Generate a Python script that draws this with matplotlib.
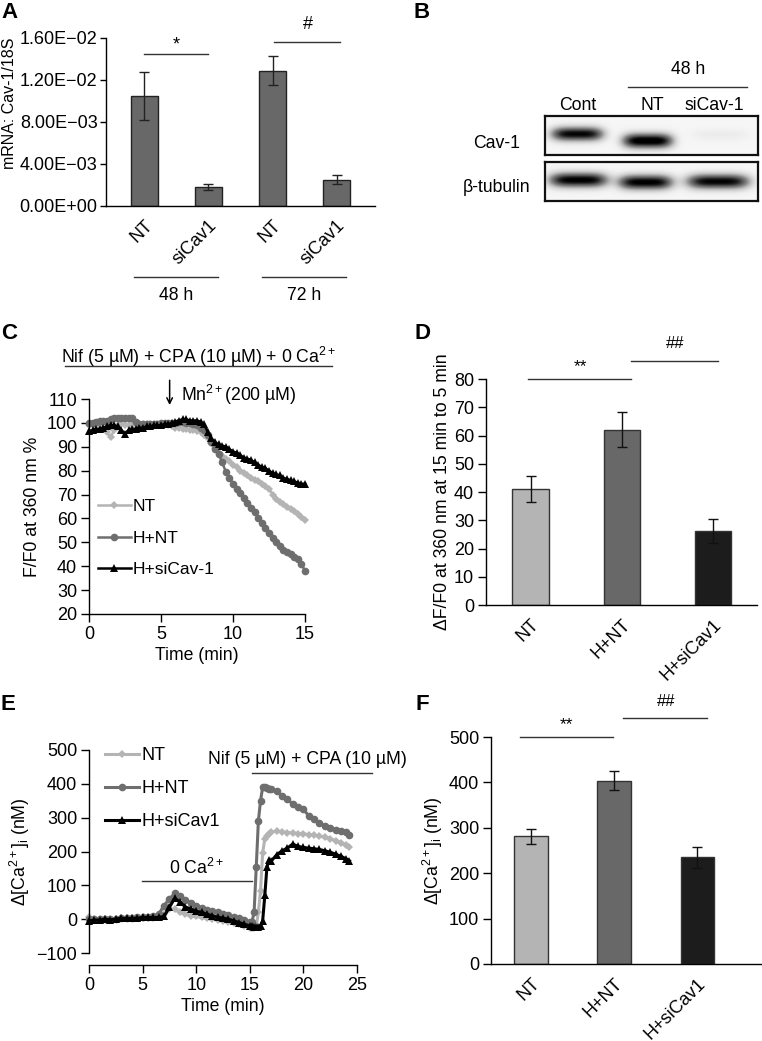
import numpy as np
import matplotlib
matplotlib.use('Agg')
import matplotlib.pyplot as plt
import matplotlib.transforms as mtransforms

plt.rcParams['font.family'] = ['Liberation Sans', 'DejaVu Sans']
plt.rcParams['mathtext.fontset'] = 'custom'
plt.rcParams['mathtext.rm'] = 'Liberation Sans'
plt.rcParams['mathtext.it'] = 'Liberation Sans:italic'
plt.rcParams['mathtext.bf'] = 'Liberation Sans:bold'
plt.rcParams['axes.linewidth'] = 1.0

# ---------------- data ----------------
# Panel A
a_labels = ['NT', 'siCav1', 'NT', 'siCav1']
a_groups = ['48 h', '72 h']
a_values = [0.0105, 0.00184, 0.0129, 0.00252]
a_errors = [0.0023, 0.0003, 0.0014, 0.0004]
a_yticks = [0, 0.004, 0.008, 0.012, 0.016]
a_yticklabels = ['0.00E+00', '4.00E\u221203', '8.00E\u221203', '1.20E\u221202', '1.60E\u221202']

# Panel B (western blot band intensities, 0..1)
b_lanes = ['Cont', 'NT', 'siCav-1']
b_cav1 = [0.92, 1.0, 0.08]
b_tubulin = [0.95, 0.95, 0.93]

# Panel C
c_time = [i * 0.25 for i in range(61)]
c_nt = [99, 99, 99.5, 99, 98, 96, 94, 97, 99, 99.5,
        99, 99, 99, 99.5, 99.5, 99.5, 99.5, 99.5, 99.5, 99.5,
        99.5, 99.5, 99, 98.5, 98, 98, 97.5, 97.5, 97, 97,
        96.5, 96, 95, 93.5, 91.5, 89.5, 87.5, 86, 85, 84,
        82.5, 81.5, 80, 79, 78, 77, 76, 75.5, 74.5, 73.5,
        72.5, 70, 68, 67, 66, 65, 64, 63, 62, 60.5,
        59.5]
c_hnt = [100, 100, 100.5, 101, 101, 101, 101.5, 102, 102, 102,
         102, 102, 102, 100.5, 99.5, 99.5, 99.5, 99.5, 99.5, 99.5,
         100, 100, 100, 100, 100, 100.5, 100.5, 100, 100, 99.5,
         99, 98, 97, 95, 92, 89, 87, 83.5, 79.5, 77,
         74.5, 72.5, 70.5, 68.5, 66.5, 64.5, 62.5, 60, 58, 56,
         54, 52, 50, 48.5, 47, 46, 45, 44, 43, 41,
         38]
c_hsi = [96.5, 97, 97.5, 97.5, 98, 98.5, 99, 99, 98.5, 97,
         95.5, 97, 97.5, 97.5, 98, 98, 98.5, 98.5, 99, 99,
         99, 99.5, 99.5, 100, 100.5, 101, 101.5, 101.5, 101, 101,
         101, 100.5, 99.5, 96, 93.5, 92, 91, 90.5, 90, 89,
         88, 87.5, 86.5, 85.5, 85, 84.5, 83.5, 82.5, 81.5, 81,
         80, 79, 78.5, 78, 77, 76.5, 76, 75.5, 75, 74.5,
         74.5]
c_series = ['NT', 'H+NT', 'H+siCav-1']

# Panel D
d_labels = ['NT', 'H+NT', 'H+siCav1']
d_values = [41.1, 62.1, 26.2]
d_errors = [4.7, 6.3, 4.4]

# Panel E
e_time = [0, 0.5, 1, 1.5, 2, 2.5, 3, 3.5, 4, 4.5, 5, 5.5, 6, 6.5, 7, 7.5, 8, 8.5,
          9, 9.5, 10, 10.5, 11, 11.5, 12, 12.5, 13, 13.5, 14, 14.5, 15,
          15.2, 15.4, 15.6, 15.8, 16.0, 16.2, 16.4, 16.6, 16.8, 17.0,
          17.5, 18, 18.5, 19, 19.5, 20, 20.5, 21, 21.5, 22, 22.5, 23, 23.5, 24,
          24.3]
e_nt = [5, 0, 0, 0, 0, 0, 2, 2, 2, 3, 3, 3, 3, 5, 15, 30, 30, 20,
        15, 10, 8, 5, 2, 0, -3, -5, -8, -12, -15, -20, -25,
        -25, -25, -22, 20, 83, 197, 237, 245, 252, 257,
        260, 258, 256, 255, 253, 252, 250, 248, 246, 242, 238, 232, 226, 218,
        212]
e_hnt = [0, 0, 0, 0, 0, 0, 2, 3, 3, 5, 5, 5, 8, 15, 40, 60, 76, 68,
         58, 48, 40, 33, 28, 24, 20, 15, 11, 7, 2, -3, -8,
         -8, 20, 153, 290, 350, 390, 390, 388, 386, 384,
         378, 365, 355, 340, 332, 325, 305, 295, 285, 275, 270, 265, 262, 258,
         248]
e_hsi = [-5, -3, -2, 0, -2, 0, 3, 2, 2, 3, 5, 5, 5, 5, 8, 35, 62, 50,
         36, 30, 24, 20, 15, 10, 6, 3, 0, -5, -10, -15, -20,
         -20, -22, -22, -22, -20, -5, 70, 155, 175, 172,
         190, 202, 210, 222, 215, 212, 210, 208, 206, 202, 198, 192, 186, 178,
         172]
e_series = ['NT', 'H+NT', 'H+siCav1']

# Panel F
f_labels = ['NT', 'H+NT', 'H+siCav1']
f_values = [281, 404, 235]
f_errors = [17, 21, 23]

# ---------------- layout helpers ----------------
W, H = 762, 1041
fig = plt.figure(figsize=(W / 100, H / 100), dpi=100)


def rect(x0, y0, x1, y1):
    return [x0 / W, 1 - y1 / H, (x1 - x0) / W, (y1 - y0) / H]


def ftext(x, y, s, **kw):
    kw.setdefault('ha', 'center')
    kw.setdefault('va', 'center')
    fig.text(x / W, 1 - y / H, s, **kw)


def fline(x0, x1, y, lw=1.0, color='#333333'):
    fig.add_artist(plt.Line2D([x0 / W, x1 / W], [1 - y / H, 1 - y / H],
                              transform=fig.transFigure, color=color, lw=lw))


TICK = 13
LAB = 12.7
LET = 16
GREY_LIGHT = '#b4b4b4'
GREY_DARK = '#686868'
BLACK = '#1c1c1c'


def style(ax):
    ax.spines['top'].set_visible(False)
    ax.spines['right'].set_visible(False)
    ax.tick_params(direction='out', length=5.5, width=1, labelsize=TICK, pad=3)


# ---------------- Panel A ----------------
axA = fig.add_axes(rect(106, 38, 375, 206))
xa = np.arange(len(a_values))
axA.bar(xa, a_values, width=0.42, color='#686868', edgecolor='#222222', linewidth=1)
axA.errorbar(xa, a_values, yerr=a_errors, fmt='none', ecolor='#222222',
             elinewidth=1, capsize=3.5, capthick=1)
axA.set_xlim(-0.6, 3.6)
axA.set_ylim(0, 0.016)
style(axA)
axA.tick_params(axis='y', length=4, pad=2)
axA.set_yticks(a_yticks)
axA.set_yticklabels(a_yticklabels)
axA.set_xticks(xa)
axA.set_xticklabels(a_labels, rotation=45, ha='right', rotation_mode='anchor')
axA.tick_params(axis='x', length=0, pad=8)
axA.set_ylabel('mRNA: Cav-1/18S', fontsize=11.5)
axA.yaxis.set_label_coords(-0.33, 0.61)
axA.plot([0, 1], [0.0145, 0.0145], color='#333333', lw=1, clip_on=False)
axA.text(0.5, 0.0153, '*', ha='center', va='center', fontsize=13)
axA.plot([2.03, 3.05], [0.01565, 0.01565], color='#333333', lw=1, clip_on=False)
axA.text(2.55, 0.0173, '#', ha='center', va='center', fontsize=13)
trA = mtransforms.blended_transform_factory(axA.transData, axA.transAxes)
for gi, g in enumerate(a_groups):
    c = 2 * gi + 0.5
    axA.plot([c - 0.67, c + 0.65], [-0.42, -0.42], transform=trA, color='#333333',
             lw=1, clip_on=False)
    axA.text(c, -0.53, g, transform=trA, ha='center', va='center', fontsize=LAB)

# ---------------- Panel B ----------------
def blot(ax, intens, xcs, ycs, hws, hhs):
    nx, ny = 213, 39
    xx = np.linspace(0, 1, nx)[None, :]
    yy = np.linspace(0, 1, ny)[:, None]
    img = np.full((ny, nx), 0.07)
    for I, cx, cy, hw, hh in zip(intens, xcs, ycs, hws, hhs):
        img += I * np.exp(-np.abs((xx - cx) / hw) ** 4) * np.exp(-((yy - cy) / hh) ** 2)
    ax.imshow(np.clip(img, 0, 1), cmap='Greys', vmin=0, vmax=1.0, aspect='auto',
              interpolation='bilinear', extent=(0, 1, 1, 0))
    ax.set_xticks([])
    ax.set_yticks([])
    for s in ax.spines.values():
        s.set_linewidth(1.6)
        s.set_color('#111111')


axB1 = fig.add_axes(rect(545, 116, 758, 155))
blot(axB1, b_cav1, [0.15, 0.48, 0.82], [0.46, 0.64, 0.48], [0.125, 0.12, 0.14], [0.19, 0.2, 0.17])
axB2 = fig.add_axes(rect(545, 162, 758, 201))
blot(axB2, b_tubulin, [0.155, 0.47, 0.81], [0.46, 0.52, 0.5], [0.14, 0.13, 0.15], [0.2, 0.2, 0.2])
for lane, xpx in zip(b_lanes, [578, 652, 714]):
    ftext(xpx, 106, lane, fontsize=LAB)
ftext(688, 69, '48 h', fontsize=LAB)
fline(628, 747, 87)
ftext(497, 143, 'Cav-1', fontsize=LAB)
ftext(497, 188, '\u03b2-tubulin', fontsize=LAB)

# ---------------- Panel C ----------------
axC = fig.add_axes(rect(89, 399, 305, 614))
style(axC)
cC = [GREY_LIGHT, '#6e6e6e', '#000000']
mC = ['D', 'o', '^']
msC = [4.5, 5.5, 5.5]
for ys, lab, col, mk, ms in zip([c_nt, c_hnt, c_hsi], c_series, cC, mC, msC):
    axC.plot(c_time, ys, color=col, marker=mk, markersize=ms, lw=1.8, label=lab,
             markeredgewidth=0, clip_on=False)
axC.set_xlim(0, 15)
axC.set_ylim(20, 110)
axC.set_xticks([0, 5, 10, 15])
axC.set_yticks(range(20, 111, 10))
axC.set_xlabel('Time (min)', fontsize=LAB, labelpad=3)
axC.set_ylabel('F/F0 at 360 nm %', fontsize=LAB, labelpad=4)
axC.legend(loc='upper left', bbox_to_anchor=(0.04, 0.535), frameon=False,
           fontsize=12.5, handlelength=1.9, handletextpad=0.1, labelspacing=0.95,
           borderpad=0, borderaxespad=0)
axC.text(7.6, 127.5, 'Nif (5 \u00b5M) + CPA (10 \u00b5M) + 0 Ca$^{2+}$', ha='center',
         va='center', fontsize=LAB, clip_on=False)
axC.plot([-1.67, 16.9], [123.8, 123.8], color='#333333', lw=1, clip_on=False)
axC.annotate('', xy=(5.6, 106.3), xytext=(5.6, 119), clip_on=False,
             arrowprops=dict(arrowstyle='->', color='black', lw=1.1))
axC.text(6.4, 111.8, 'Mn$^{2+}$(200 \u00b5M)', ha='left', va='center', fontsize=LAB,
         clip_on=False)

# ---------------- Panel D ----------------
axD = fig.add_axes(rect(486, 379, 757, 605))
style(axD)
xd = np.arange(3)
axD.bar(xd, d_values, width=0.4, color=[GREY_LIGHT, GREY_DARK, BLACK],
        edgecolor='#333333', linewidth=1)
axD.errorbar(xd, d_values, yerr=d_errors, fmt='none', ecolor='#111111',
             elinewidth=1, capsize=3.5, capthick=1)
axD.set_xlim(-0.49, 2.48)
axD.set_ylim(0, 80)
axD.set_yticks(range(0, 81, 10))
axD.set_xticks(xd)
axD.set_xticklabels(d_labels, rotation=45, ha='right', rotation_mode='anchor')
axD.tick_params(axis='x', length=0, pad=8)
axD.set_ylabel('\u0394F/F0 at 360 nm at 15 min to 5 min', fontsize=LAB, labelpad=2)
axD.plot([-0.03, 1.1], [80, 80], color='#333333', lw=1, clip_on=False)
axD.text(0.55, 84.5, '**', ha='center', va='center', fontsize=12.5, clip_on=False)
axD.plot([1.1, 2.05], [86.4, 86.4], color='#333333', lw=1, clip_on=False)
axD.text(1.58, 92.5, '##', ha='center', va='center', fontsize=12, clip_on=False)

# ---------------- Panel E ----------------
axE = fig.add_axes(rect(89, 750, 357, 953))
style(axE)
axE.spines['bottom'].set_position(('outward', 8.6))
cE = [GREY_LIGHT, '#6e6e6e', '#000000']
mE = ['D', 'o', '^']
msE = [4.5, 5.5, 5.5]
for ys, lab, col, mk, ms in zip([e_nt, e_hnt, e_hsi], e_series, cE, mE, msE):
    axE.plot(e_time, ys, color=col, marker=mk, markersize=ms, lw=2.2, label=lab,
             markeredgewidth=0, clip_on=False)
axE.set_xlim(0, 25)
axE.set_ylim(-100, 500)
axE.set_xticks([0, 5, 10, 15, 20, 25])
axE.set_yticks(range(-100, 501, 100))
axE.set_xlabel('Time (min)', fontsize=LAB, labelpad=3)
axE.set_ylabel('\u0394[Ca$^{2+}$]$_\\mathregular{i}$ (nM)', fontsize=LAB, labelpad=3)
axE.legend(loc='upper left', bbox_to_anchor=(0.06, 1.015), frameon=False,
           fontsize=13, handlelength=1.9, handletextpad=0.1, labelspacing=0.9,
           borderpad=0, borderaxespad=0)
axE.plot([4.95, 15.2], [113, 113], color='#333333', lw=1, clip_on=False)
axE.text(10.0, 152, '0 Ca$^{2+}$', ha='center', va='center', fontsize=LAB)
axE.plot([15.2, 26.4], [431.5, 431.5], color='#333333', lw=1, clip_on=False)
axE.text(20.4, 472, 'Nif (5 \u00b5M) + CPA (10 \u00b5M)', ha='center', va='center',
         fontsize=LAB, clip_on=False)

# ---------------- Panel F ----------------
axF = fig.add_axes(rect(491, 737, 762, 964))
style(axF)
xf = np.arange(3)
axF.bar(xf, f_values, width=0.4, color=[GREY_LIGHT, GREY_DARK, BLACK],
        edgecolor='#333333', linewidth=1)
axF.errorbar(xf, f_values, yerr=f_errors, fmt='none', ecolor='#111111',
             elinewidth=1, capsize=3.5, capthick=1)
axF.set_xlim(-0.48, 2.78)
axF.set_ylim(0, 500)
axF.set_yticks(range(0, 501, 100))
axF.set_xticks(xf)
axF.set_xticklabels(f_labels, rotation=45, ha='right', rotation_mode='anchor')
axF.tick_params(axis='x', length=0, pad=8)
axF.set_ylabel('\u0394[Ca$^{2+}$]$_\\mathregular{i}$ (nM)', fontsize=LAB, labelpad=3)
axF.plot([-0.13, 0.99], [500, 500], color='#333333', lw=1, clip_on=False)
axF.text(0.43, 528, '**', ha='center', va='center', fontsize=12.5, clip_on=False)
axF.plot([1.11, 2.12], [542, 542], color='#333333', lw=1, clip_on=False)
axF.text(1.63, 578, '##', ha='center', va='center', fontsize=12, clip_on=False)

# ---------------- panel letters ----------------
for L, (x, y) in {'A': (9, 13), 'B': (422, 13), 'C': (9, 333), 'D': (422, 333),
                  'E': (8, 705), 'F': (422, 705)}.items():
    ftext(x, y, L, fontsize=LET, fontweight='bold')

fig.savefig('out.png', dpi=100)
